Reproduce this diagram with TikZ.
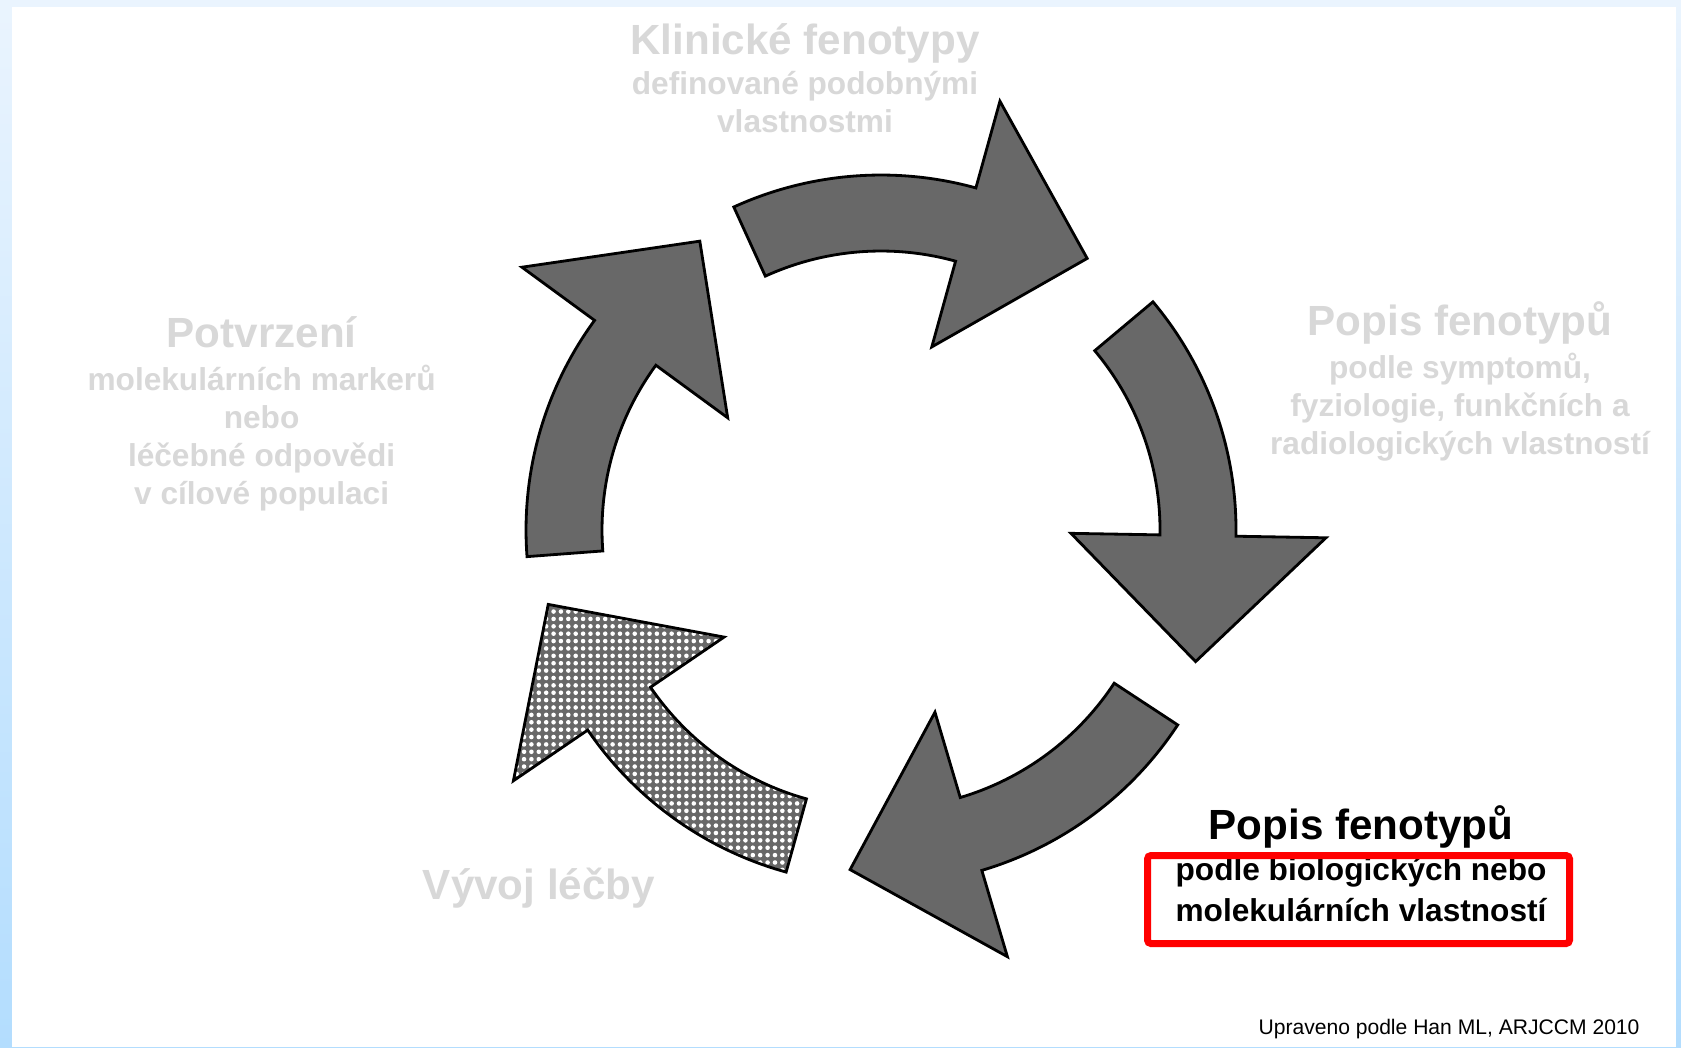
\documentclass[tikz,border=0pt]{standalone}
\usepackage{fontspec}
\setmainfont{Liberation Sans}
\usetikzlibrary{patterns.meta}
\definecolor{paleblue}{RGB}{234,244,254}
\definecolor{skyblue}{RGB}{179,221,254}
\definecolor{fadegray}{RGB}{216,216,216}
\definecolor{arrowgray}{RGB}{104,104,104}
\tikzset{
  heading/.style={font=\bfseries\fontsize{12}{14}\selectfont, text=fadegray, inner sep=0pt, anchor=base},
  detail/.style={font=\bfseries\fontsize{9}{10.8}\selectfont, text=fadegray, align=center, inner sep=0pt, anchor=base},
  ringarrow/.style={draw=black, line width=0.8pt, fill=arrowgray},
  dotarrow/.style={draw=black, line width=0.8pt, preaction={fill=arrowgray},
    pattern={Dots[distance=2.1pt, radius=0.65pt]}, pattern color=white},
}
\begin{document}
\begin{tikzpicture}
  \useasboundingbox (0,0) rectangle (16.81,-10.47);
  % slide frame
  \fill[top color=paleblue, bottom color=skyblue] (0,0) rectangle (16.81,-10.47);
  \fill[white] (0.12,-0.07) rectangle (16.76,-10.47);

  % ring of arrows
  \begin{scope}[shift={(8.81,-5.30)}]
    \foreach \a/\b in {114.5/74.5, 40/-1, -33.3/-73.5, 184.3/143.8}
      \draw[ringarrow] (\a:3.55) arc[start angle=\a, end angle=\b, radius=3.55]
        -- (\b:4.45) -- (\b-21.7:3.41) -- (\b:1.90) -- (\b:2.79)
        arc[start angle=\b, end angle=\a, radius=2.79] -- cycle;
    \draw[dotarrow] (-105.5:3.55) arc[start angle=-105.5, end angle=-145.7, radius=3.55]
      -- (-145.7:4.45) -- (-167.4:3.41) -- (-145.7:1.90) -- (-145.7:2.79)
      arc[start angle=-145.7, end angle=-105.5, radius=2.79] -- cycle;
  \end{scope}

  % labels (multi-line nodes sit on their last baseline)
  \node[heading] (klinicke) at (8.05,-0.545) {Klinické fenotypy};
  \node[detail] (klinickesub) at (8.05,-1.32) {definované podobnými\\vlastnostmi};
  \node[heading] (popis) at (14.60,-3.35) {Popis fenotypů};
  \node[detail] (popissub) at (14.60,-4.546) {podle symptomů,\\fyziologie, funkčních a\\radiologických vlastností};
  \node[heading] (potvrzeni) at (2.616,-3.47) {Potvrzení};
  \node[detail] (potvrzenisub) at (2.616,-5.04) {molekulárních markerů\\nebo\\léčebné odpovědi\\v cílové populaci};
  \node[heading] (vyvoj) at (5.39,-8.99) {Vývoj léčby};
  \node[heading, text=black] (biopopis) at (13.61,-8.393) {Popis fenotypů};
  \node[detail, text=black, font=\bfseries\fontsize{9}{11.6}\selectfont] (biopopissub) at (13.61,-9.215)
    {podle biologických nebo\\molekulárních vlastností};
  \draw[red, line width=2pt, rounded corners=1pt] (11.475,-8.555) rectangle (15.695,-9.435);
  \node[anchor=base, inner sep=0pt, font=\fontsize{6}{7}\selectfont] (zdroj) at (14.49,-10.34)
    {Upraveno podle Han ML, ARJCCM 2010};
\end{tikzpicture}
\end{document}
